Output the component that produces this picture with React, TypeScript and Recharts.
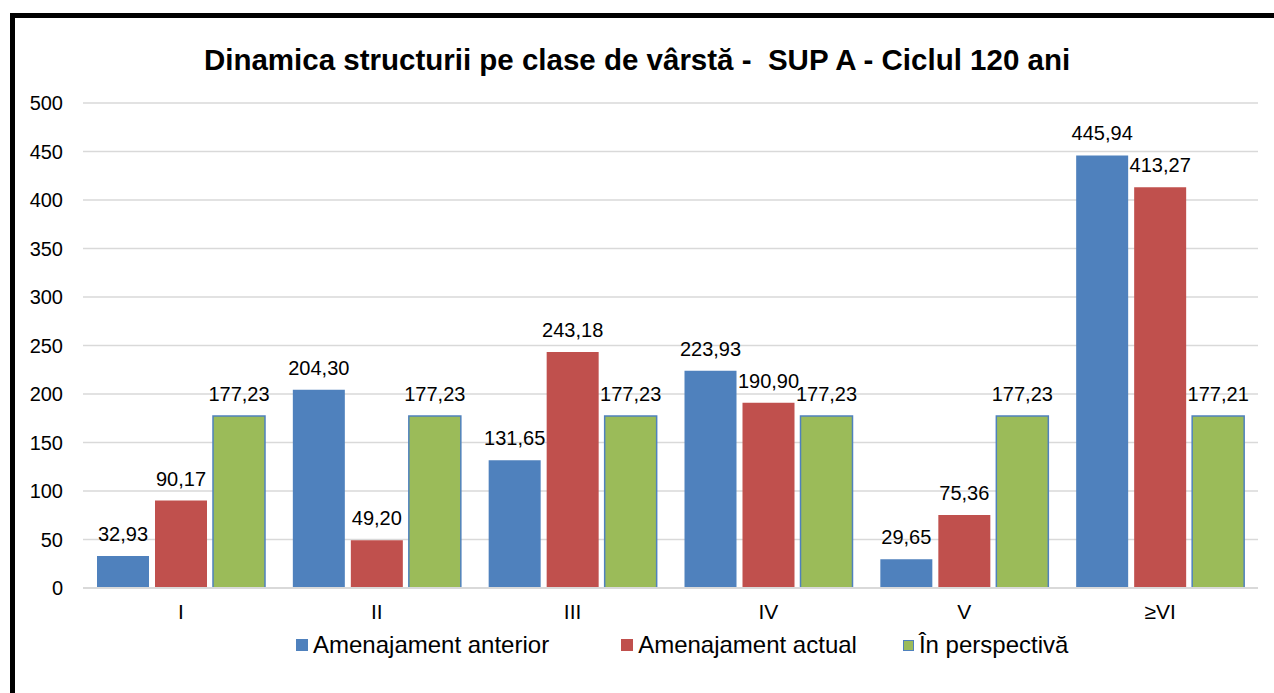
import React from 'react';
import { BarChart, Bar, XAxis, YAxis, CartesianGrid, LabelList, Legend } from 'recharts';

const categories = ['I', 'II', 'III', 'IV', 'V', '≥VI'];
const anterior = [32.93, 204.3, 131.65, 223.93, 29.65, 445.94];
const actual = [90.17, 49.2, 243.18, 190.9, 75.36, 413.27];
const perspectiva = [177.23, 177.23, 177.23, 177.23, 177.23, 177.21];
const yTicks = [0, 50, 100, 150, 200, 250, 300, 350, 400, 450, 500];
const seriesNames = ['Amenajament anterior', 'Amenajament actual', 'În perspectivă'];
const colors = ['#4F81BD', '#C0504D', '#9BBB59'];

const data = categories.map((c, i) => ({
  cat: c,
  anterior: anterior[i],
  actual: actual[i],
  perspectiva: perspectiva[i],
}));

const FONT = '"Liberation Sans", Arial, sans-serif';
const fmt = (v: any) => Number(v).toFixed(2).replace('.', ',');

const LegendContent = () => (
  <div style={{ display: 'flex', alignItems: 'center', fontFamily: FONT, fontSize: 24, color: '#000', paddingLeft: 296, whiteSpace: 'nowrap' }}>
    {seriesNames.map((n, i) => (
      <div key={n} style={{ display: 'flex', alignItems: 'center', marginRight: i === 0 ? 72 : 46 }}>
        <span
          style={{
            display: 'inline-block',
            width: i === 2 ? 9 : 12,
            height: i === 2 ? 9 : 12,
            background: colors[i],
            border: i === 2 ? '1.5px solid #4F81BD' : 'none',
            marginRight: 5,
          }}
        />
        <span>{n}</span>
      </div>
    ))}
  </div>
);

const labelStyle = { fontFamily: FONT, fontSize: 20, fill: '#000' };

export default function App() {
  return (
    <div style={{ position: 'fixed', left: 0, top: 0, width: 1274, height: 693, background: '#fff', overflow: 'hidden' }}>
      <div
        style={{
          position: 'absolute',
          left: 10,
          top: 13,
          width: 1300,
          height: 720,
          border: '5px solid #000',
          boxSizing: 'border-box',
        }}
      />
      <div
        style={{
          position: 'absolute',
          left: 0,
          top: 43,
          width: 1274,
          textAlign: 'center',
          fontFamily: FONT,
          fontWeight: 'bold',
          fontSize: 29.5,
          color: '#000',
          whiteSpace: 'pre',
        }}
      >
        {'Dinamica structurii pe clase de vârstă -  SUP A - Ciclul 120 ani'}
      </div>
      <div style={{ position: 'absolute', left: 0, top: 0 }}>
        <BarChart
          width={1274}
          height={693}
          data={data}
          margin={{ top: 103, right: 16, left: 23, bottom: 65 }}
          barCategoryGap={14}
          barGap={6}
        >
          <CartesianGrid vertical={false} stroke="#D9D9D9" strokeWidth={1.5} />
          <XAxis
            dataKey="cat"
            height={40}
            tickLine={false}
            tickSize={0}
            tickMargin={16}
            axisLine={{ stroke: '#D9D9D9', strokeWidth: 2 }}
            tick={{ fontFamily: FONT, fontSize: 21, fill: '#000' }}
          />
          <YAxis
            width={60}
            domain={[0, 500]}
            ticks={yTicks}
            interval={0}
            tickLine={false}
            axisLine={false}
            tickSize={0}
            tickMargin={20}
            tick={{ fontFamily: FONT, fontSize: 20, fill: '#000' }}
          />
          <Legend
            layout="horizontal"
            verticalAlign="middle"
            align="center"
            content={<LegendContent />}
            wrapperStyle={{ position: 'absolute', top: 631, left: 0, width: 1274, height: 32 }}
          />
          <Bar dataKey="anterior" name={seriesNames[0]} fill={colors[0]} isAnimationActive={false}>
            <LabelList dataKey="anterior" position="top" offset={15} formatter={fmt} style={labelStyle} />
          </Bar>
          <Bar dataKey="actual" name={seriesNames[1]} fill={colors[1]} isAnimationActive={false}>
            <LabelList dataKey="actual" position="top" offset={15} formatter={fmt} style={labelStyle} />
          </Bar>
          <Bar dataKey="perspectiva" name={seriesNames[2]} fill={colors[2]} stroke="#4F81BD" strokeWidth={1.5} isAnimationActive={false}>
            <LabelList dataKey="perspectiva" position="top" offset={15} formatter={fmt} style={labelStyle} />
          </Bar>
        </BarChart>
      </div>
    </div>
  );
}
